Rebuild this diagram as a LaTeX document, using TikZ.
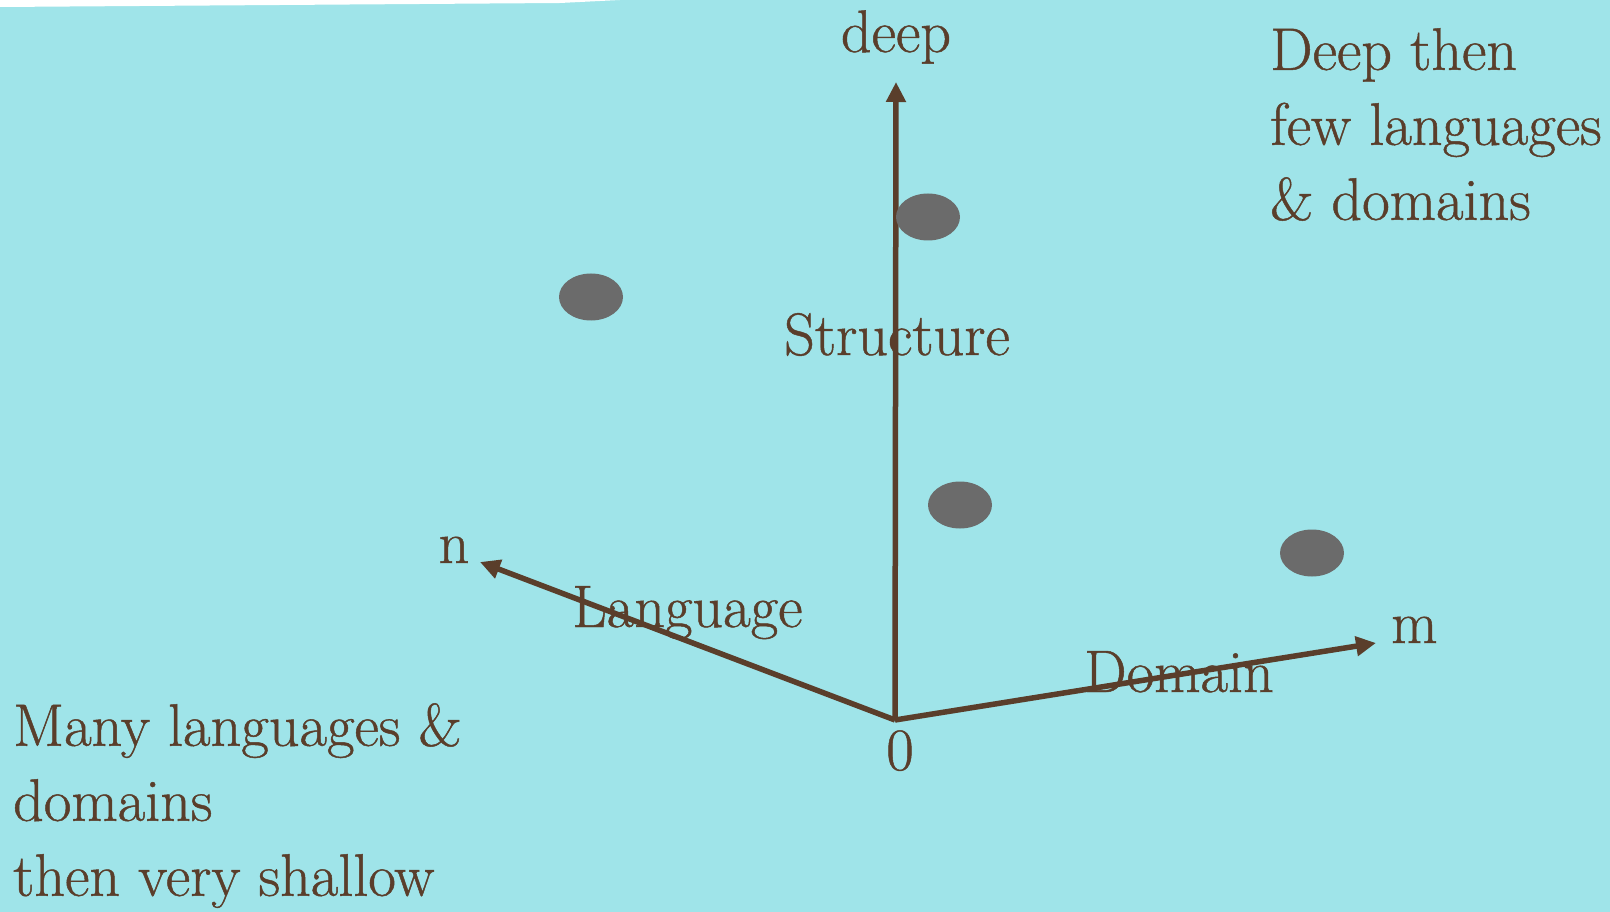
\documentclass[tikz,border=0pt]{standalone}
\usepackage{fontspec}
\setmainfont{Latin Modern Roman}[BoldFont=Latin Modern Roman, BoldFeatures={FakeBold=0.8}]
\usepackage{xcolor}
\usetikzlibrary{positioning, arrows.meta, shapes.geometric}
\definecolor{slidecyan}{HTML}{9FE4E9}
\definecolor{inkbrown}{HTML}{5A3E2B}
\definecolor{dotgray}{HTML}{6B6B6B}

\begin{document}
\begin{tikzpicture}[
    x=1pt, y=-1pt,
    every node/.style={text=inkbrown, inner sep=0pt, font=\fontsize{60}{75}\selectfont\bfseries},
    axis/.style={draw=inkbrown, line width=5.5pt, -{Triangle[length=20pt,width=19pt]}},
    blob/.style={ellipse, fill=dotgray, minimum width=64pt, minimum height=47pt}
]
    % background of the slide
    \fill[slidecyan] (0,0) rectangle (1610,912);
    \fill[white] (0,0) -- (620,0) -- (560,3) -- (0,7) -- cycle;

    % axes
    \coordinate (o) at (895,720);
    \coordinate (deeptip) at (896,82);
    \coordinate (ntip) at (480,562);
    \coordinate (mtip) at (1376,643);
    \draw[axis] (o) -- (deeptip);
    \draw[axis] (o) -- (ntip);
    \draw[axis] (o) -- (mtip);

    % axis labels
    \node[anchor=base] (deep) at (896,52) {deep};
    \node[anchor=base] (n) at (454,563) {n};
    \node[anchor=base west] (m) at (1391,643) {m};
    \node[anchor=base] (zero) at (900,770) {0};
    \node[anchor=base west] (structure) at (784,355) {Structure};
    \node[anchor=base west] (language) at (572,627) {Language};
    \node[anchor=base west] (domain) at (1084,692) {Domain};

    % points
    \node[blob] (p1) at (928,217) {};
    \node[blob] (p2) at (591,297) {};
    \node[blob] (p3) at (960,505) {};
    \node[blob] (p4) at (1312,553) {};

    % captions
    \node[anchor=north west, align=left] (deepcap) at (1270,28) {Deep then\\few languages\\\& domains};
    \node[anchor=north west, align=left] (manycap) at (13,703) {Many languages \&\\domains\\then very shallow};
\end{tikzpicture}
\end{document}
